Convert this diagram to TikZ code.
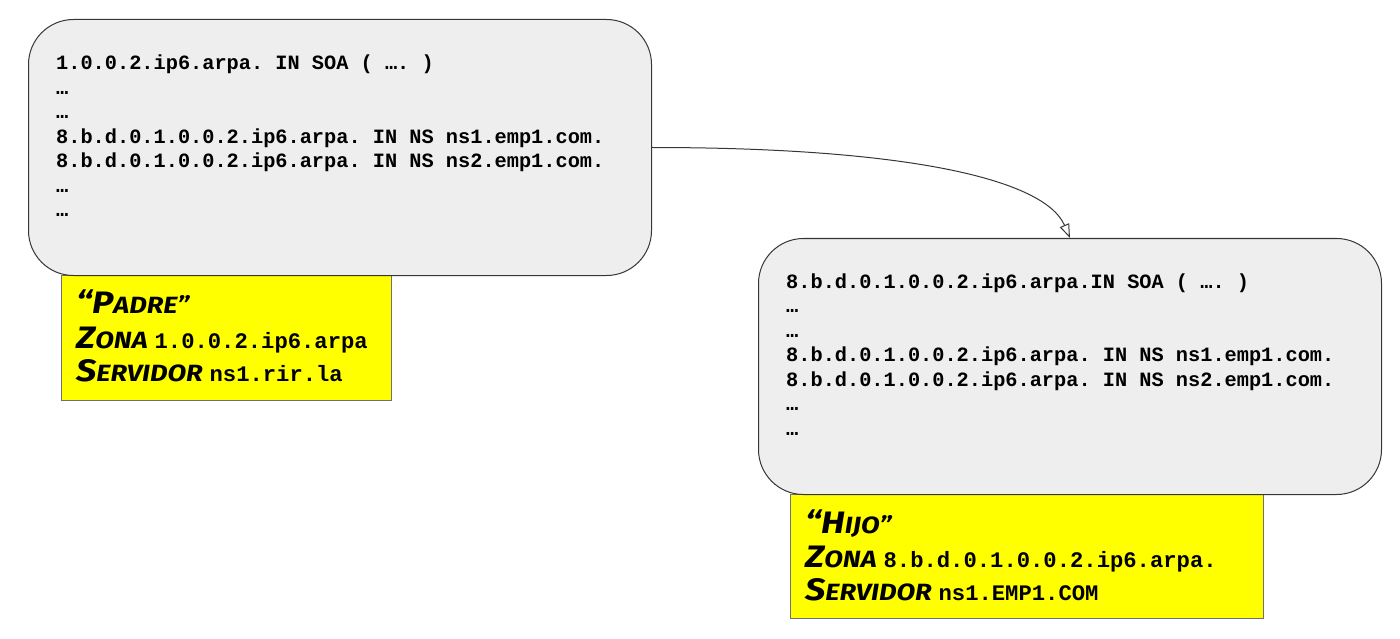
\documentclass[tikz,border=0pt]{standalone}
\usepackage{fontspec}
\setmainfont{Liberation Mono}
\setmonofont{Liberation Mono}
\newfontfamily\marker{Fira Sans}[FakeStretch=1.16]
\usetikzlibrary{arrows.meta}
\definecolor{boxgray}{HTML}{EEEEEE}
\definecolor{edgegray}{HTML}{363636}
\definecolor{yel}{HTML}{FFFF00}
\definecolor{yedge}{HTML}{707070}
\newcommand\mksc[2]{{\fontsize{31}{31}\selectfont #1}{\fontsize{23.5}{24}\selectfont #2}}
\newcommand\ymono[1]{\hspace{7pt}{\ttfamily\bfseries\upshape\fontsize{22.2}{24}\selectfont #1}}
\tikzset{
  zone/.style={draw=edgegray, fill=boxgray, rounded corners=45pt, line width=1pt,
    minimum width=623pt, minimum height=256pt, inner sep=0pt, anchor=north west},
  tag/.style={draw=yedge, fill=yel, line width=1pt, inner sep=0pt, anchor=north west},
  rec/.style={anchor=base west, inner sep=0pt, font=\ttfamily\bfseries\fontsize{20.3}{24}\selectfont},
  ytxt/.style={anchor=base west, inner sep=0pt, font=\marker\bfseries\itshape},
  link/.style={draw=edgegray, line width=1pt, -{Triangle[open, length=14pt, width=10pt]}}
}
\begin{document}
\begin{tikzpicture}[x=1pt,y=-1pt]
\useasboundingbox (0,0) rectangle (1400,639);
% yellow tags
\node[tag, minimum width=330pt, minimum height=125pt] (pt) at (61,275) {};
\node[tag, minimum width=473pt, minimum height=124pt] (ct) at (790,494) {};
% zone boxes
\node[zone] (p) at (28,19) {};
\node[zone] (c) at (758,238) {};
% parent records
\node[rec] (p1) at (56,70) {1.0.0.2.ip6.arpa. IN SOA ( …. )};
\node[rec] (p2) at (56,94.5) {…};
\node[rec] (p3) at (56,119) {…};
\node[rec] (p4) at (56,143.5) {8.b.d.0.1.0.0.2.ip6.arpa. IN NS ns1.emp1.com.};
\node[rec] (p5) at (56,168) {8.b.d.0.1.0.0.2.ip6.arpa. IN NS ns2.emp1.com.};
\node[rec] (p6) at (56,192.5) {…};
\node[rec] (p7) at (56,217) {…};
% child records
\node[rec] (c1) at (786,288) {8.b.d.0.1.0.0.2.ip6.arpa.IN SOA ( …. )};
\node[rec] (c2) at (786,312.5) {…};
\node[rec] (c3) at (786,337) {…};
\node[rec] (c4) at (786,361.5) {8.b.d.0.1.0.0.2.ip6.arpa. IN NS ns1.emp1.com.};
\node[rec] (c5) at (786,386) {8.b.d.0.1.0.0.2.ip6.arpa. IN NS ns2.emp1.com.};
\node[rec] (c6) at (786,410.5) {…};
\node[rec] (c7) at (786,435) {…};
% parent tag text
\node[ytxt] (pa) at (76,313) {\mksc{“P}{ADRE”}};
\node[ytxt] (pb) at (76,348) {\mksc{Z}{ONA}\ymono{1.0.0.2.ip6.arpa}};
\node[ytxt] (pc) at (76,381) {\mksc{S}{ERVIDOR}\ymono{ns1.rir.la}};
% child tag text
\node[ytxt] (ca) at (805,533) {\mksc{“H}{IJO”}};
\node[ytxt] (cb) at (805,567) {\mksc{Z}{ONA}\ymono{8.b.d.0.1.0.0.2.ip6.arpa.}};
\node[ytxt] (cc) at (805,600) {\mksc{S}{ERVIDOR}\ymono{ns1.EMP1.COM}};
% delegation arrow
\draw[link] (p.east) .. controls +(250,0) and +(-26,-60) .. (c.north);
\end{tikzpicture}
\end{document}
